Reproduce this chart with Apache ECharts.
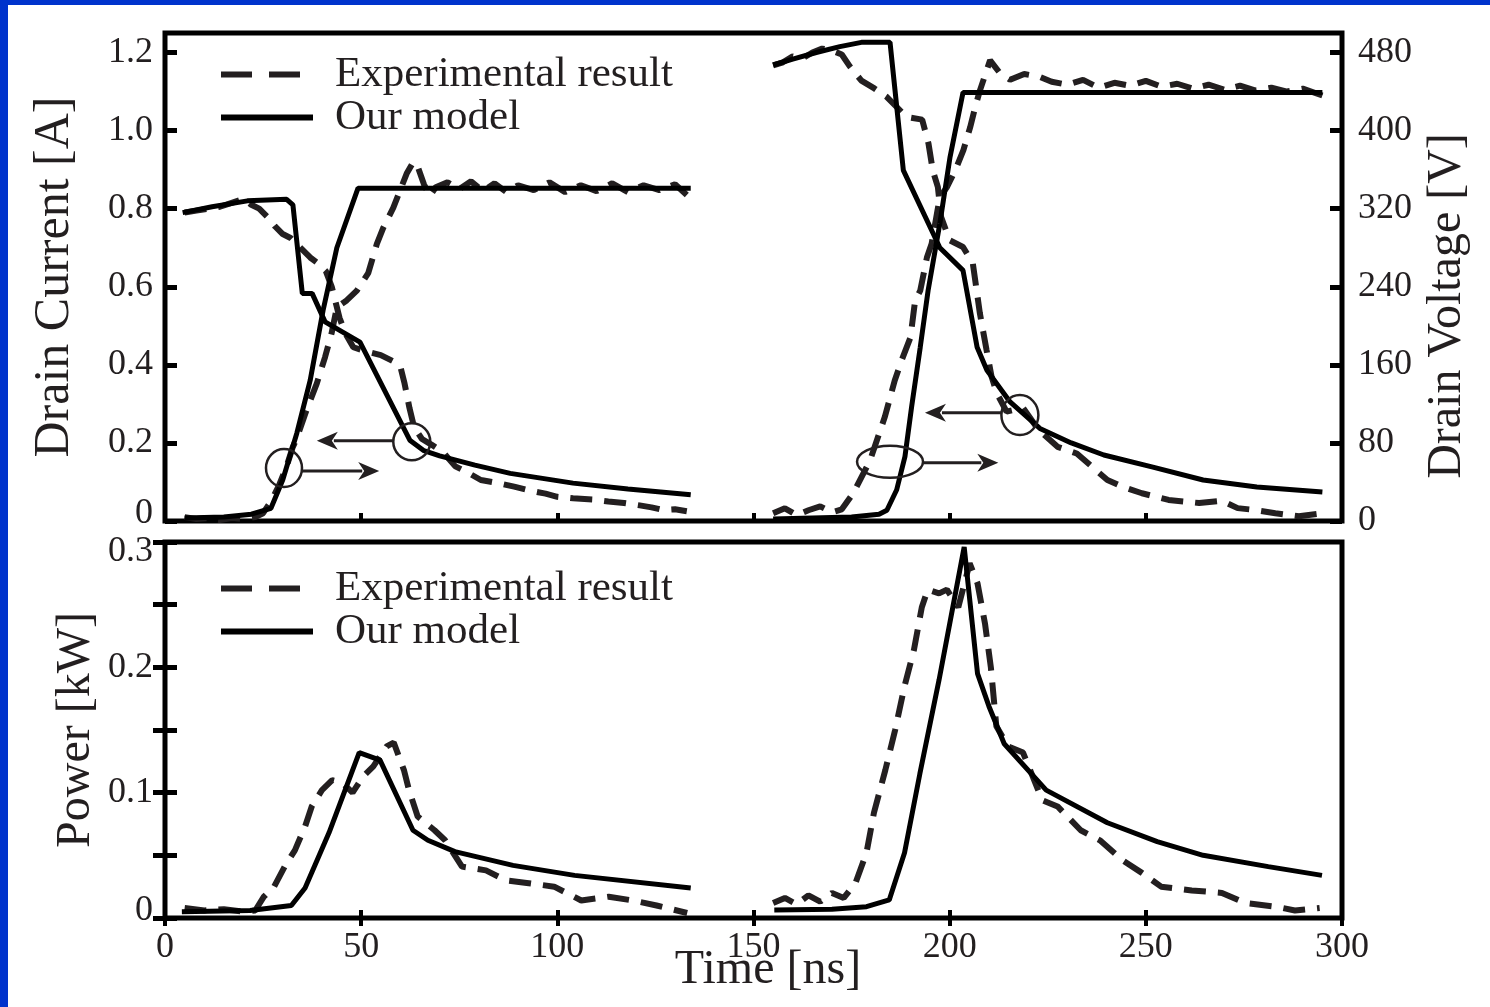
<!DOCTYPE html>
<html>
<head>
<meta charset="utf-8">
<script src="https://cdn.jsdelivr.net/npm/echarts@6/dist/echarts.min.js"></script>
<style>
html,body{margin:0;padding:0;background:#fff;}
#c{width:1490px;height:1007px;}
</style>
</head>
<body>
<div id="c"></div>
<script>
// ---------------- data ----------------
const timeTickLabels    = ['0','50','100','150','200','250','300'];
const currentTickLabels = ['0','0.2','0.4','0.6','0.8','1.0','1.2'];
const voltageTickLabels = ['0','80','160','240','320','400','480'];
const powerTickLabels   = ['0','0.1','0.2','0.3'];
const legendNames = ['Experimental result','Our model'];

// Drain current [A], [time ns, value]
const currentExpLeft = [[5,0.79],[8,0.795],[11,0.80],[14,0.805],[17,0.815],[20,0.825],[22,0.81],[24,0.80],[26,0.78],[28,0.755],[30,0.735],[32,0.725],[34.5,0.70],[37,0.675],[39,0.66],[41,0.64],[42.5,0.60],[43.5,0.56],[44.5,0.52],[46,0.48],[48,0.445],[51,0.435],[55,0.425],[58,0.41],[60,0.395],[61,0.355],[62.3,0.29],[63.5,0.24],[65.5,0.21],[68,0.195],[71,0.175],[74,0.14],[77,0.125],[80.5,0.105],[85,0.097],[89,0.088],[93,0.078],[97,0.07],[100,0.062],[104,0.058],[109,0.055],[113,0.05],[117,0.046],[121,0.04],[124,0.035],[127,0.028],[130,0.03],[133,0.025]];
const currentModelLeft = [[4.5,0.79],[12,0.805],[21,0.82],[31,0.824],[32.6,0.81],[35,0.583],[37.5,0.583],[40.8,0.51],[49.7,0.458],[62.4,0.207],[66,0.18],[70,0.167],[79,0.143],[88,0.122],[104,0.097],[118,0.082],[134,0.067]];
const currentExpRight = [[155,1.167],[157.5,1.175],[160,1.19],[162.5,1.185],[165,1.2],[167.5,1.21],[170,1.205],[172.5,1.195],[174.5,1.165],[177.5,1.128],[180.8,1.108],[184,1.086],[189,1.035],[193,1.028],[194.6,0.967],[195.7,0.898],[197,0.855],[197.8,0.779],[200,0.719],[203.4,0.702],[205.9,0.66],[207.7,0.532],[209.4,0.438],[210.7,0.369],[212,0.328],[214.5,0.28],[218.7,0.29],[222.7,0.233],[227.5,0.19],[232.4,0.173],[236.3,0.139],[240.2,0.105],[244,0.088],[249,0.071],[255.8,0.054],[263.6,0.046],[269.4,0.052],[273.4,0.033],[278,0.028],[283,0.02],[289,0.012],[295,0.02]];
const currentModelRight = [[155,1.168],[160,1.183],[166,1.2],[172,1.215],[177.5,1.226],[184.8,1.226],[188.2,0.898],[197.5,0.70],[203.4,0.642],[207,0.445],[209.5,0.386],[215.4,0.305],[223,0.237],[231,0.2],[239.3,0.169],[251.8,0.138],[264.6,0.105],[278.3,0.087],[295,0.074]];

// Drain voltage [V]
const voltageExpLeft = [[5,4],[8,2],[11,3],[14,1],[17,3],[20,2],[23,4],[25,8],[27,20],[29,36],[31,56],[32.5,75],[33.6,85],[36.1,114],[38.7,141],[40.8,168],[42.5,193],[43.8,219],[46.3,226],[48.9,236],[51.8,254],[54,284],[55.7,301],[58.2,321],[61.6,356],[63.3,368],[64.5,362],[66,345],[67.5,333],[69,342],[72,347],[75,340],[78,348],[81,338],[84,346],[87,337],[90,344],[94,339],[98,347],[102,337],[106,344],[110,338],[114,346],[118,337],[122,344],[126,339],[130,345],[133,334]];
const voltageModelLeft = [[5,3],[15,4],[22,7],[27,13],[30,42],[33.6,90],[37,144],[40.3,216],[43.8,280],[49.2,341],[134,341]];
const voltageExpRight = [[155,8],[158,13],[161,6],[164,11],[167,15],[170,9],[172.5,12],[175.5,29],[179.7,62],[183.5,107],[186,144],[187.8,165],[190,188],[191.2,226],[192.5,236],[194.2,270],[195.4,284],[197.5,332],[199.3,342],[201.4,359],[203.5,380],[205.2,403],[206.5,424],[207.7,441],[210.3,472],[212.8,459],[215.4,452],[219,458],[223,455],[226,450],[230,447],[234,452],[238,444],[242,449],[246,446],[250,451],[254,445],[258,448],[262,443],[266,447],[270,442],[274,446],[278,441],[282,444],[286,440],[290,443],[295,436]];
const voltageModelRight = [[155,2],[175,4],[182,7],[184,11],[186.5,32],[188.6,66],[190.3,117],[192.5,178],[194.5,236],[197.5,305],[200.1,373],[203.4,439],[295,439]];

// Power [kW]
const powerExpLeft = [[5,0.008],[10,0.006],[15,0.007],[20,0.005],[23,0.006],[25.2,0.017],[27.8,0.025],[30.5,0.041],[33.1,0.054],[35.7,0.073],[37.4,0.089],[40,0.102],[42.6,0.11],[45.2,0.108],[47.8,0.1],[50.5,0.113],[53.1,0.121],[56.5,0.137],[58.3,0.14],[60.9,0.118],[62.2,0.102],[64.4,0.081],[68.7,0.07],[71.4,0.062],[75.7,0.041],[81.8,0.038],[86.9,0.03],[92.2,0.028],[99.2,0.025],[106.1,0.014],[113.1,0.017],[119.2,0.014],[125.3,0.01],[133.1,0.004]];
const powerModelLeft = [[4.3,0.005],[21.7,0.006],[32.2,0.01],[35.7,0.024],[41.8,0.068],[49.5,0.132],[54.8,0.126],[63.2,0.07],[67,0.062],[73.9,0.053],[88.7,0.042],[104.4,0.034],[134,0.024]];
const powerExpRight = [[155,0.012],[158,0.016],[161,0.011],[164,0.018],[167,0.013],[170,0.02],[173,0.016],[176,0.028],[178.8,0.052],[180.7,0.084],[183.6,0.118],[186.1,0.15],[188.5,0.185],[190.9,0.214],[192.9,0.248],[194.4,0.262],[197.3,0.259],[199.3,0.262],[202.2,0.248],[205.1,0.283],[207.1,0.267],[209,0.235],[210.5,0.2],[211.9,0.153],[214.9,0.137],[218.7,0.132],[223.6,0.094],[227.5,0.089],[233.4,0.07],[238.3,0.062],[244.1,0.046],[249,0.036],[253.9,0.025],[261.7,0.022],[269.4,0.02],[275.3,0.012],[283.2,0.009],[288,0.006],[294.3,0.008]];
const powerModelRight = [[155.3,0.0064],[170,0.007],[178.8,0.009],[184.6,0.0144],[188.5,0.052],[192.4,0.115],[197.3,0.19],[200.2,0.238],[203.7,0.296],[207.1,0.195],[210,0.169],[213.9,0.139],[224.6,0.102],[240.2,0.076],[252.9,0.061],[264.6,0.05],[281.2,0.041],[294.9,0.034]];

// ---------------- styling / layout ----------------
const FONT = '"Liberation Serif","Times New Roman",Times,serif';
const INK = '#231f20';
const BLUE = '#0033cc';

function joinHalves(left, right){ return left.concat([[145, null]], right); }
function labelAt(list, step, lowStyle){
  return function(v){
    const i = Math.round(v/step);
    if (Math.abs(v - i*step) > 1e-6) return '';
    const s = list[i] !== undefined ? list[i] : '';
    if (i === 0 && lowStyle && s) return '{lo|' + s + '}';
    return s;
  };
}
function powerLabel(v){
  const i = Math.round(v/0.05);
  if (Math.abs(v - i*0.05) > 1e-6 || i % 2) return '';
  const k = i/2;
  const s = powerTickLabels[k] !== undefined ? powerTickLabels[k] : '';
  if (!s) return '';
  if (k === 0) return '{lo|' + s + '}';
  if (k === powerTickLabels.length - 1) return '{hi|' + s + '}';
  return s;
}

const tickStyleY = {show:true, inside:true, length:12, lineStyle:{color:'#000', width:5}};
const tickStyleX = {show:true, inside:true, length:8, lineStyle:{color:'#000', width:4}};
const labelStyle = {fontFamily:FONT, fontSize:36, color:INK,
  rich:{
    lo:{fontFamily:FONT, fontSize:36, color:INK, padding:[0,0,14,0]},
    hi:{fontFamily:FONT, fontSize:36, color:INK, padding:[20,0,0,0]}
  }};

function xAxis(grid, pos, showLabel){
  return {type:'value', gridIndex:grid, position:pos, min:0, max:300, interval:50,
    axisLine:{show:false}, axisTick:tickStyleX, splitLine:{show:false},
    axisLabel: showLabel ? Object.assign({show:true, margin:12, formatter:labelAt(timeTickLabels,50,false)}, labelStyle) : {show:false}};
}
function yAxis(grid, pos, max, interval, formatter, margin, showMax){
  return {type:'value', gridIndex:grid, position:pos, min:0, max:max, interval:interval,
    axisLine:{show:false}, axisTick:tickStyleY, splitLine:{show:false},
    axisLabel: formatter ? Object.assign({show:true, margin:margin, showMaxLabel:!!showMax, formatter:formatter}, labelStyle) : {show:false}};
}

const lineBase = {type:'line', symbol:'none', showSymbol:false, smooth:false, connectNulls:false, animation:false};
function expSeries(data, xi, yi){
  return Object.assign({}, lineBase, {name:legendNames[0], xAxisIndex:xi, yAxisIndex:yi, data:data, z:2,
    color:INK, itemStyle:{color:INK},
    lineStyle:{color:INK, width:6, type:[22,12], cap:'butt'}});
}
function modelSeries(data, xi, yi){
  return Object.assign({}, lineBase, {name:legendNames[1], xAxisIndex:xi, yAxisIndex:yi, data:data, z:3,
    color:'#000', itemStyle:{color:'#000'},
    lineStyle:{color:'#000', width:5, type:'solid'}});
}
function legend(top){
  return {show:true, orient:'vertical', left:213, top:top, itemWidth:92, itemHeight:20, itemGap:0,
    selectedMode:false,
    itemStyle:{opacity:0},
    textStyle:{fontFamily:FONT, fontSize:43, color:INK, padding:[0,0,0,17]},
    data:[
      {name:legendNames[0], itemStyle:{opacity:0}, lineStyle:{type:[31,17], width:6, color:INK, opacity:1}},
      {name:legendNames[1], itemStyle:{opacity:0}, lineStyle:{type:'solid', width:6, color:'#000', opacity:1}}
    ]};
}

const gridBase = {left:165, width:1177, show:true, borderColor:'#000', borderWidth:5, backgroundColor:'transparent', containLabel:false, outerBoundsMode:'none'};

const option = {
  animation:false,
  backgroundColor:'#ffffff',
  textStyle:{fontFamily:FONT},
  grid:[
    Object.assign({}, gridBase, {top:33, height:488}),
    Object.assign({}, gridBase, {top:542, height:376})
  ],
  legend:[legend(48), legend(562)],
  xAxis:[ xAxis(0,'bottom',false), xAxis(1,'bottom',true), xAxis(1,'top',false) ],
  yAxis:[
    yAxis(0,'left',1.25,0.2,labelAt(currentTickLabels,0.2,true),12,false),
    yAxis(0,'right',500,80,labelAt(voltageTickLabels,80,false),16,false),
    yAxis(1,'left',0.3,0.05,powerLabel,12,true),
    yAxis(1,'right',0.3,0.05,null,0,false)
  ],
  series:[
    expSeries(joinHalves(currentExpLeft,currentExpRight),0,0),
    modelSeries(joinHalves(currentModelLeft,currentModelRight),0,0),
    expSeries(joinHalves(voltageExpLeft,voltageExpRight),0,1),
    modelSeries(joinHalves(voltageModelLeft,voltageModelRight),0,1),
    expSeries(joinHalves(powerExpLeft,powerExpRight),1,2),
    modelSeries(joinHalves(powerModelLeft,powerModelRight),1,2)
  ]
};

const chart = echarts.init(document.getElementById('c'), null, {renderer:'canvas'});
chart.setOption(option);

// annotation marks (circle / arrow) anchored in data coordinates of the top panel (time, current)
const annotations = [
  {kind:'ellipse', at:[30.33,0.1356], rx:18, ry:19},
  {kind:'arrow', from:[34.9,0.128], to:[54.6,0.128]},
  {kind:'ellipse', at:[62.9,0.203], rx:18.5, ry:18.5},
  {kind:'arrow', from:[58.1,0.2055], to:[38.7,0.2055]},
  {kind:'ellipse', at:[184.8,0.1517], rx:33, ry:16},
  {kind:'arrow', from:[193.3,0.149], to:[212.4,0.149]},
  {kind:'ellipse', at:[217.9,0.2712], rx:18.5, ry:20},
  {kind:'arrow', from:[213.3,0.2771], to:[193.7,0.2771]}
];

function txt(text, x, y, size, rot){
  return {type:'text', x:x, y:y, rotation:rot||0, z:20,
    style:{text:text, fontFamily:FONT, fontSize:size, fill:INK,
      align:'center', verticalAlign:'middle', textAlign:'center', textVerticalAlign:'middle'}};
}

const graphics = [
  {type:'rect', shape:{x:0,y:0,width:1490,height:5}, style:{fill:BLUE}, z:30},
  {type:'rect', shape:{x:0,y:0,width:8,height:1007}, style:{fill:BLUE}, z:30},
  txt('Drain Current [A]', 55, 277, 50, Math.PI/2),
  txt('Drain Voltage [V]', 1447, 306, 48, Math.PI/2),
  txt('Power [kW]', 76, 730, 48, Math.PI/2),
  txt('Time [ns]', 768, 970, 48, 0)
];

annotations.forEach(function(a){
  if (a.kind === 'ellipse'){
    const p = chart.convertToPixel({seriesIndex:0}, a.at);
    graphics.push({type:'ellipse', shape:{cx:p[0], cy:p[1], rx:a.rx, ry:a.ry},
      style:{fill:null, stroke:INK, lineWidth:2.5}, z:10});
  } else {
    const p1 = chart.convertToPixel({seriesIndex:0}, a.from);
    const p2 = chart.convertToPixel({seriesIndex:0}, a.to);
    const dir = p2[0] > p1[0] ? 1 : -1;
    const hx = p2[0] - dir*21;
    graphics.push({type:'line', shape:{x1:p1[0], y1:p1[1], x2:hx + dir*4, y2:p2[1]},
      style:{stroke:INK, lineWidth:3}, z:10});
    graphics.push({type:'polygon', shape:{points:[[p2[0],p2[1]],[hx,p2[1]-9],[hx+dir*6,p2[1]],[hx,p2[1]+9]]},
      style:{fill:INK}, z:10});
  }
});

chart.setOption({graphic: graphics});
</script>
</body>
</html>
